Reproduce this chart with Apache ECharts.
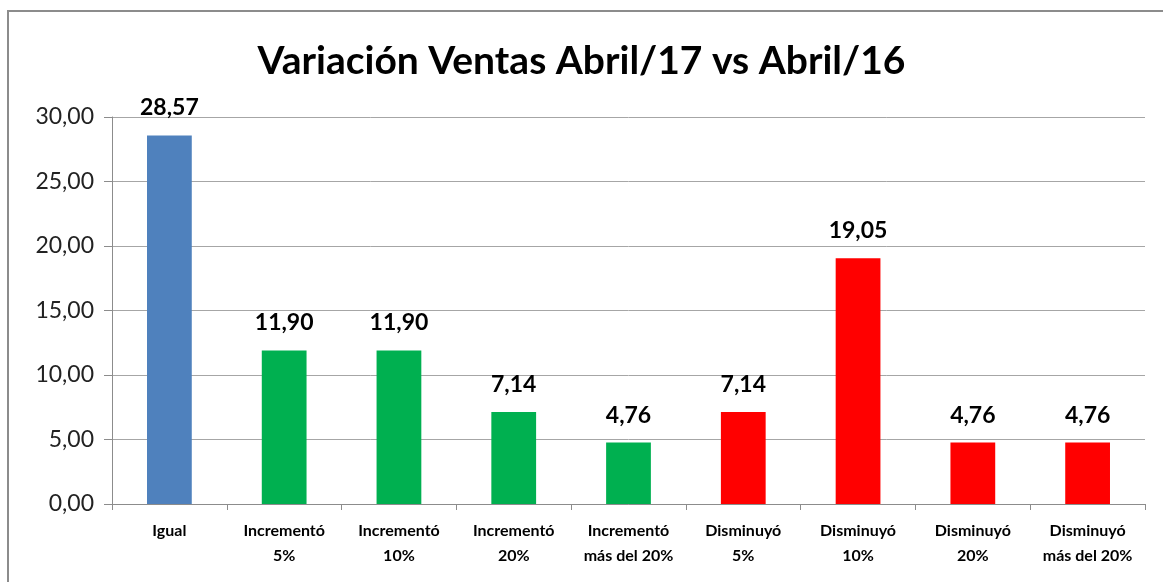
<!DOCTYPE html>
<html><head><meta charset="utf-8">
<script src="https://cdn.jsdelivr.net/npm/echarts@6/dist/echarts.min.js"></script>
<style>html,body{margin:0;padding:0;background:#fff;}#c{width:1163px;height:582px;}</style>
</head><body><div id="c"></div>
<script>
const categories = ['Igual','Incrementó\n5%','Incrementó\n10%','Incrementó\n20%','Incrementó\nmás del 20%','Disminuyó\n5%','Disminuyó\n10%','Disminuyó\n20%','Disminuyó\nmás del 20%'];
const values = [28.57, 11.90, 11.90, 7.14, 4.76, 7.14, 19.05, 4.76, 4.76];
const barColors = ['#4F81BD','#00B050','#00B050','#00B050','#00B050','#FF0000','#FF0000','#FF0000','#FF0000'];
const titleText = 'Variación Ventas Abril/17 vs Abril/16';
const fmt = v => Number(v).toFixed(2).replace('.', ',');
const font = 'Lato, "Open Sans", "Noto Sans", sans-serif';
const chart = echarts.init(document.getElementById('c'));
chart.setOption({
  animation: false,
  backgroundColor: '#fff',
  graphic: [{type:'rect', shape:{x:8, y:11, width:1170, height:590}, style:{fill:'none', stroke:'#8c8c8c', lineWidth:2}, silent:true}],
  title: {text: titleText, left: 'center', top: 37, textStyle: {fontFamily: font, fontWeight: 'bold', fontSize: 39, color: '#000'}},
  grid: {left: 112, right: 18, top: 117, bottom: 78, containLabel: false},
  xAxis: {
    type: 'category', data: categories,
    axisLine: {lineStyle: {color: '#8c8c8c', width: 1}},
    axisTick: {show: true, length: 6, alignWithLabel: false, lineStyle: {color: '#8c8c8c'}},
    axisLabel: {interval: 0, margin: 14, fontFamily: font, fontWeight: 'bold', fontSize: 16, lineHeight: 25, color: '#000'}
  },
  yAxis: {
    type: 'value', min: 0, max: 30, interval: 5,
    axisLine: {show: true, lineStyle: {color: '#8c8c8c', width: 1}},
    axisTick: {show: true, length: 8, lineStyle: {color: '#8c8c8c'}},
    splitLine: {lineStyle: {color: '#a6a6a6', width: 1}},
    axisLabel: {formatter: fmt, margin: 18, fontFamily: font, fontSize: 23, color: '#222'}
  },
  series: [{
    type: 'bar', data: values.map((v,i)=>({value:v, itemStyle:{color:barColors[i]}})),
    barWidth: '39%',
    label: {show: true, position: 'top', distance: 16, formatter: p => fmt(p.value), fontFamily: font, fontWeight: 'bold', fontSize: 23, color: '#000'}
  }]
});
</script></body></html>
